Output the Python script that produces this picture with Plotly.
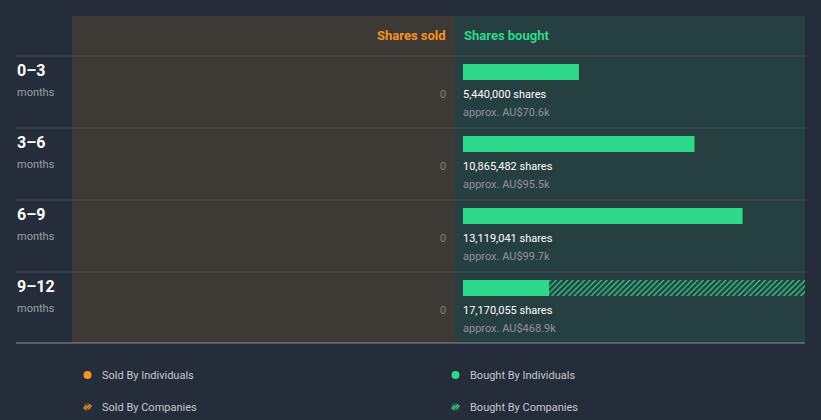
import plotly.graph_objects as go

# ---- data ----
periods = ["0–3", "3–6", "6–9", "9–12"]
period_unit = ["months", "months", "months", "months"]
shares_sold = [0, 0, 0, 0]
bought_individuals = [5440000, 10865482, 13119041, 4040000]
bought_companies = [0, 0, 0, 13130055]
bought_total = [5440000, 10865482, 13119041, 17170055]
bought_value = ["AU$70.6k", "AU$95.5k", "AU$99.7k", "AU$468.9k"]
legend_labels = ["Sold By Individuals", "Sold By Companies",
                 "Bought By Individuals", "Bought By Companies"]

# ---- style ----
W, H = 821, 420
BG = "#252c3a"
SOLD_BG = "#3d3935"
BOUGHT_BG = "#263f40"
GREEN = "#2ed98a"
ORANGE = "#f7931e"
FONT = "Roboto"

def yv(p):  # pixel row -> y axis value (row index space)
    return (p - 72) / 72.0

def xp(p):  # pixel -> paper x
    return p / W

rows = list(range(len(periods)))

fig = go.Figure()

# bought by individuals
fig.add_trace(go.Bar(y=rows, x=bought_individuals, orientation="h", width=16 / 72,
                     marker=dict(color=GREEN, line_width=0),
                     hoverinfo="skip", showlegend=False))
# bought by companies (hatched)
fig.add_trace(go.Bar(y=rows, x=bought_companies, base=bought_individuals,
                     orientation="h", width=16 / 72,
                     marker=dict(color=GREEN, line_width=0,
                                 pattern=dict(shape="/", size=4, solidity=0.3,
                                              fgcolor=GREEN, bgcolor="rgba(0,0,0,0)",
                                              fillmode="replace")),
                     hoverinfo="skip", showlegend=False))

shapes = []
# panels
shapes.append(dict(type="rect", xref="paper", yref="y", x0=xp(72), x1=xp(455),
                   y0=yv(16), y1=yv(343), fillcolor=SOLD_BG, line_width=0, layer="below"))
shapes.append(dict(type="rect", xref="paper", yref="y", x0=xp(455), x1=xp(805),
                   y0=yv(16), y1=yv(343), fillcolor=BOUGHT_BG, line_width=0, layer="below"))
# row separators
for i in rows:
    shapes.append(dict(type="line", xref="paper", yref="y", x0=xp(16), x1=xp(805),
                       y0=i + yv(56), y1=i + yv(56),
                       line=dict(color="#4a4e52", width=1), layer="below"))
shapes.append(dict(type="line", xref="paper", yref="y", x0=xp(16), x1=xp(805),
                   y0=yv(343), y1=yv(343), line=dict(color="#8a9099", width=1)))

annotations = []
# headers
annotations.append(dict(text="<b>Shares sold</b>", xref="paper", yref="y", x=xp(448), y=yv(35),
                        xanchor="right", yanchor="middle", showarrow=False,
                        font=dict(family=FONT, size=13, color=ORANGE)))
annotations.append(dict(text="<b>Shares bought</b>", xref="paper", yref="y", x=xp(462), y=yv(35),
                        xanchor="left", yanchor="middle", showarrow=False,
                        font=dict(family=FONT, size=13, color=GREEN)))

for i in rows:
    annotations.append(dict(text=f"<b>{periods[i]}</b>", xref="paper", yref="y",
                            x=xp(15), y=i + yv(70), xanchor="left", yanchor="middle",
                            showarrow=False, font=dict(family=FONT, size=16, color="#ffffff")))
    annotations.append(dict(text=period_unit[i], xref="paper", yref="y",
                            x=xp(15), y=i + yv(92), xanchor="left", yanchor="middle",
                            showarrow=False, font=dict(family=FONT, size=11, color="#9aa0a8")))
    annotations.append(dict(text=f"{shares_sold[i]:,}", xref="paper", yref="y",
                            x=xp(448), y=i + yv(94), xanchor="right", yanchor="middle",
                            showarrow=False, font=dict(family=FONT, size=11, color="#7d7f80")))
    annotations.append(dict(text=f"{bought_total[i]:,} shares", xref="paper", yref="y",
                            x=xp(461), y=i + yv(94), xanchor="left", yanchor="middle",
                            showarrow=False, font=dict(family=FONT, size=11, color="#ffffff")))
    annotations.append(dict(text=f"approx. {bought_value[i]}", xref="paper", yref="y",
                            x=xp(461), y=i + yv(112), xanchor="left", yanchor="middle",
                            showarrow=False, font=dict(family=FONT, size=11, color="#8d949b")))

# legend
leg_pos = [(87.5, 375, ORANGE, False), (87.5, 407, ORANGE, True),
           (455.5, 375, GREEN, False), (455.5, 407, GREEN, True)]
for lab, (cx, cy, col, hatched) in zip(legend_labels, leg_pos):
    r = 4
    if not hatched:
        shapes.append(dict(type="circle", xref="paper", yref="y",
                           x0=xp(cx - r), x1=xp(cx + r), y0=yv(cy - r), y1=yv(cy + r),
                           fillcolor=col, line_width=0))
    else:
        fill = "rgba(247,147,30,0.25)" if col == ORANGE else "rgba(46,217,138,0.25)"
        shapes.append(dict(type="circle", xref="paper", yref="y",
                           x0=xp(cx - r), x1=xp(cx + r), y0=yv(cy - r), y1=yv(cy + r),
                           fillcolor=fill, line_width=0))
        for off in (-2.5, 0, 2.5):
            half = 2.6 if off == 0 else 1.6
            mx, my = cx + off, cy
            shapes.append(dict(type="line", xref="paper", yref="y",
                               x0=xp(mx - half), y0=yv(my + half),
                               x1=xp(mx + half), y1=yv(my - half),
                               line=dict(color=col, width=1.3)))
    annotations.append(dict(text=lab, xref="paper", yref="y", x=xp(cx + 12), y=yv(cy),
                            xanchor="left", yanchor="middle", showarrow=False,
                            font=dict(family=FONT, size=11, color="#c5c9cf")))

fig.update_layout(
    width=W, height=H,
    margin=dict(l=0, r=0, t=0, b=0),
    paper_bgcolor=BG, plot_bgcolor="rgba(0,0,0,0)",
    barmode="overlay",
    showlegend=False,
    xaxis=dict(domain=[xp(463), xp(805)], range=[0, 16.05e6], visible=False, fixedrange=True),
    yaxis=dict(range=[yv(H), yv(0)], visible=False, fixedrange=True),
    shapes=shapes,
    annotations=annotations,
    font=dict(family=FONT),
)

fig.write_html("out.html")
